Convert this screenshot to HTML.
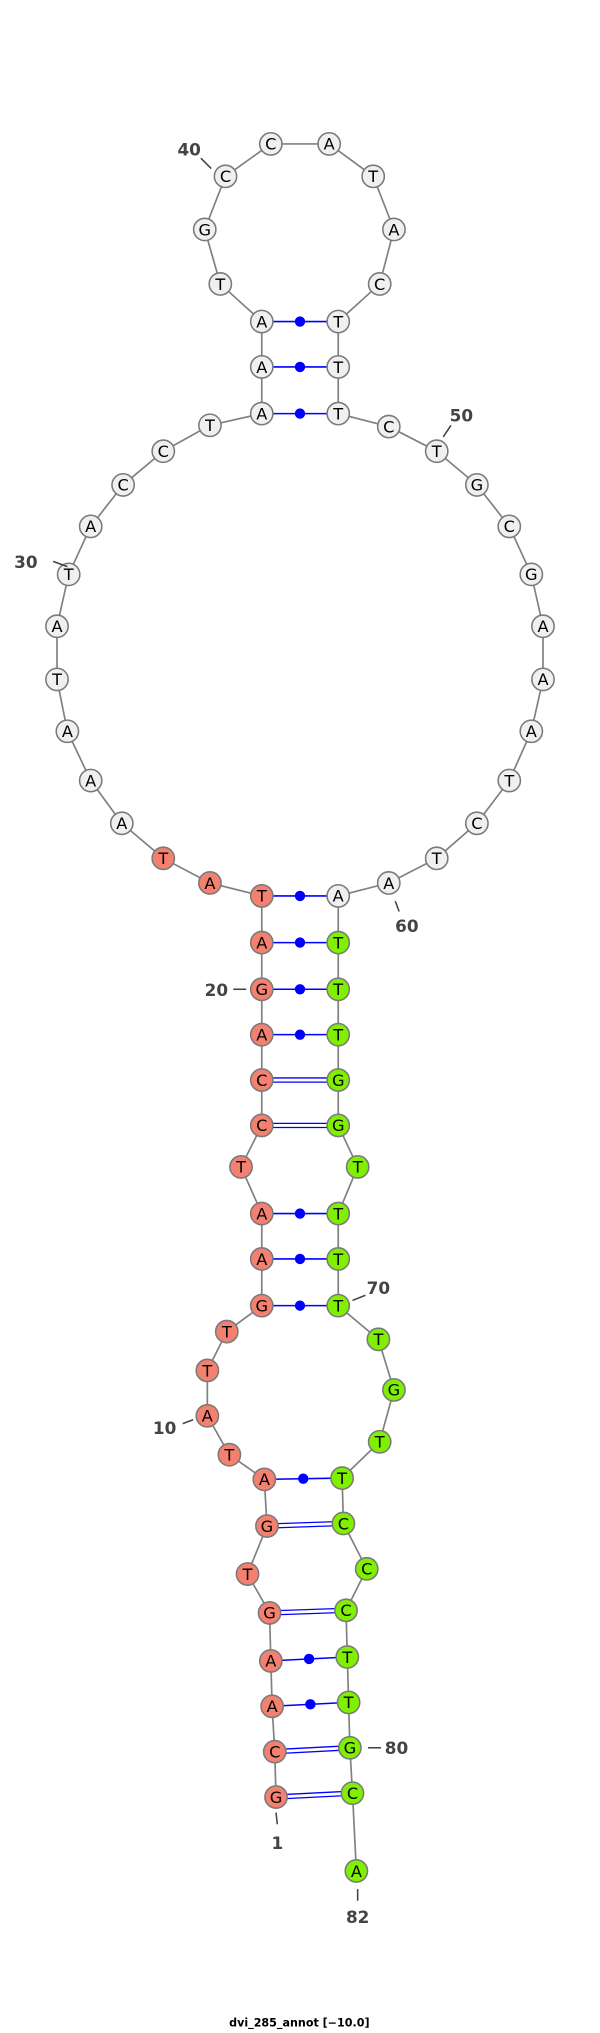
<!DOCTYPE html>
<html><head><meta charset="utf-8"><style>html,body{margin:0;padding:0;background:#fff}svg{display:block}</style></head>
<body>
<svg width="600" height="2033" viewBox="0 0 463 1568" preserveAspectRatio="none" xmlns="http://www.w3.org/2000/svg">
<g id="g"></g>
<text x="231" y="1563" font-family="DejaVu Sans, sans-serif" font-size="8.6" font-weight="bold" fill="#000" text-anchor="middle">dvi_285_annot [−10.0]</text>
</svg>
<script>
const P=[[213,1386,'G'],[212,1351,'C'],[210,1316,'A'],[209,1281,'A'],[208,1244,'G'],[191,1214,'T'],[206,1177,'G'],[204,1141,'A'],[177,1122,'T'],[160,1092,'A'],
[160,1057,'T'],[175,1027,'T'],[202,1007,'G'],[202,971,'A'],[202,936,'A'],[186,900,'T'],[202,868,'C'],[202,833,'C'],[202,798,'A'],[202,763,'G'],
[202,727,'A'],[202,691,'T'],[162,681,'A'],[126,662,'T'],[94,635,'A'],[70,602,'A'],[52,564,'A'],[44,524,'T'],[44,483,'A'],[53,443,'T'],
[70,406,'A'],[95,374,'C'],[126,348,'C'],[162,328,'T'],[202,319,'A'],[202,283,'A'],[202,248,'A'],[170,219,'T'],[158,177,'G'],[174,136,'C'],
[209,111,'C'],[254,111,'A'],[288,136,'T'],[304,177,'A'],[293,219,'C'],[261,248,'T'],[261,283,'T'],[261,319,'T'],[300,329,'C'],[337,348,'T'],
[368,374,'G'],[393,406,'C'],[410,443,'G'],[419,483,'A'],[419,524,'A'],[410,564,'A'],[393,602,'T'],[368,635,'C'],[337,662,'T'],[300,681,'A'],
[261,691,'A'],[261,727,'T'],[261,763,'T'],[261,798,'T'],[261,833,'G'],[261,868,'G'],[276,900,'T'],[261,936,'T'],[261,971,'T'],[261,1007,'T'],
[292,1033,'T'],[304,1072,'G'],[293,1112,'T'],[264,1140,'T'],[265,1175,'C'],[283,1210,'C'],[267,1242,'C'],[268,1278,'T'],[269,1313,'T'],[270,1348,'G'],
[272,1383,'C'],[275,1443,'A']];
const pairs=[[37,46,1],[36,47,1],[35,48,1],[22,61,1],[21,62,1],[20,63,1],[19,64,1],[18,65,2],[17,66,2],[15,68,1],[14,69,1],[13,70,1],[8,74,1],[7,75,2],[5,77,2],[4,78,1],[3,79,1],[2,80,2],[1,81,2]];
let s='';
s+='<polyline fill="none" stroke="#808080" stroke-width="1.3" points="'+P.map(p=>p[0]+','+p[1]).join(' ')+'"/>';
for(const [a,b,t] of pairs){const A=P[a-1],B=P[b-1];
 if(t==1){s+=`<line x1="${A[0]}" y1="${A[1]}" x2="${B[0]}" y2="${B[1]}" stroke="#0000ff" stroke-width="1.2"/><circle cx="${(A[0]+B[0])/2}" cy="${(A[1]+B[1])/2}" r="4" fill="#0000ff"/>`;}
 else{s+=`<line x1="${A[0]}" y1="${A[1]-1.6}" x2="${B[0]}" y2="${B[1]-1.6}" stroke="#0000ff" stroke-width="1"/><line x1="${A[0]}" y1="${A[1]+1.6}" x2="${B[0]}" y2="${B[1]+1.6}" stroke="#0000ff" stroke-width="1"/>`;}}
P.forEach((p,i)=>{const n=i+1;let c='#f0f0f0';
 if(n<=24)c='#f4806f';else if(n>=62)c='#7ff000';
 s+=`<circle cx="${p[0]}" cy="${p[1]}" r="8.6" fill="${c}" stroke="#7a7a7a" stroke-width="1.2"/><text x="${p[0]}" y="${p[1]+4.5}" font-family="DejaVu Sans, sans-serif" font-size="12.5" text-anchor="middle" fill="#000">${p[2]}</text>`;});
const L=[['1',214,1426,213,1398,214,1407],['10',127,1106,141,1098,149,1095],['20',167,768,180,763,190,763],['30',20,438,41,433,52,437],['40',146,120,155,122,163,130],['50',356,325,348,328,342,337],['60',314,719,305,695,308,703],['70',292,998,272,1003,282,999],['80',306,1353,284,1348,294,1348],['82',276,1483,276,1457,276,1466]];
for(const l of L){s+=`<line x1="${l[3]}" y1="${l[4]}" x2="${l[5]}" y2="${l[6]}" stroke="#444" stroke-width="1.2"/><text x="${l[1]}" y="${l[2]}" font-family="DejaVu Sans, sans-serif" font-size="13" font-weight="bold" fill="#444" text-anchor="middle">${l[0]}</text>`;}
document.getElementById('g').innerHTML=s;
</script>
</body></html>
